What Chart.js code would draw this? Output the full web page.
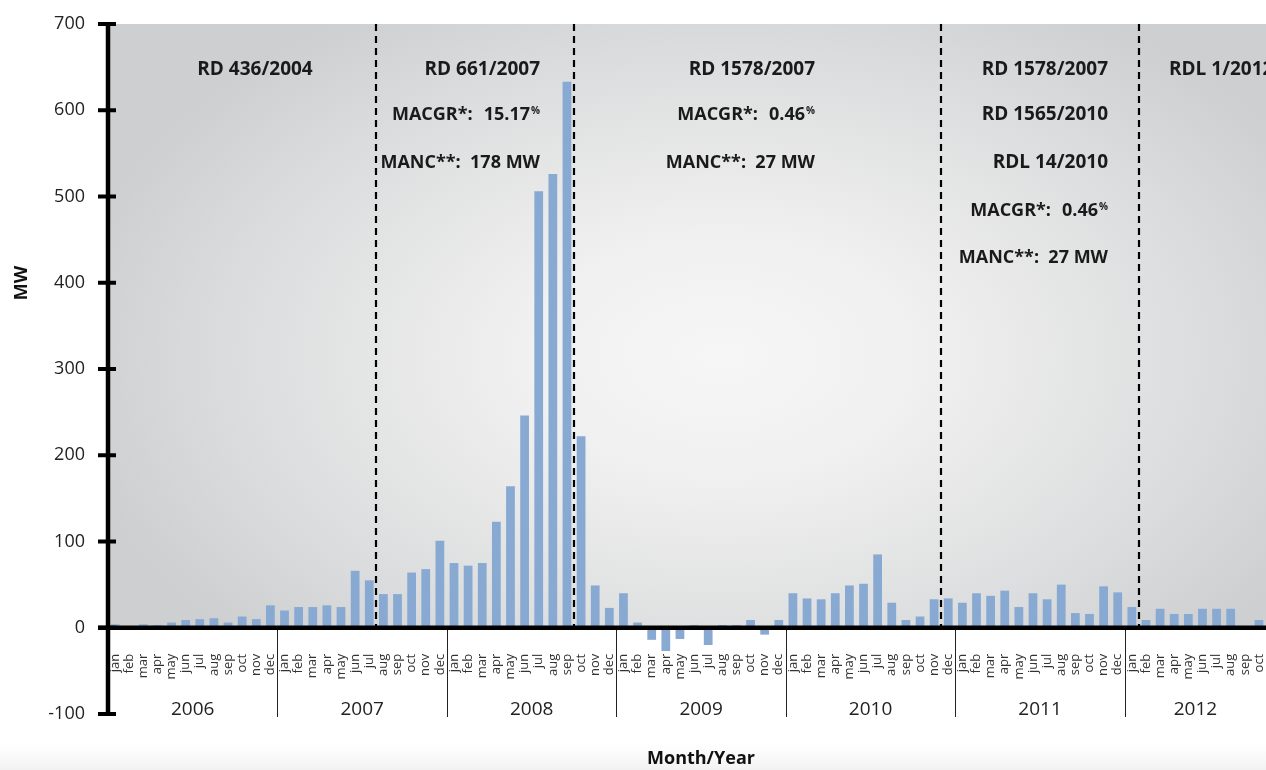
<!DOCTYPE html>
<html>
<head>
<meta charset="utf-8">
<script src="https://cdn.jsdelivr.net/npm/chart.js@4.4.0/dist/chart.umd.min.js"></script>
<style>
  html, body { margin: 0; padding: 0; background: #fff; }
  #wrap { width: 1266px; height: 770px; }
</style>
</head>
<body>
<div id="wrap"><canvas id="chart" width="1266" height="770"></canvas></div>
<script>
// monthly net capacity added (MW)
const years = ['2006', '2007', '2008', '2009', '2010', '2011', '2012'];
const monthNames = ['jan', 'feb', 'mar', 'apr', 'may', 'jun', 'jul', 'aug', 'sep', 'oct', 'nov', 'dec'];

const mw2006 = [4, 0, 4, 3, 6, 9, 10, 11, 6, 13, 10, 26];
const mw2007 = [20, 24, 24, 26, 24, 66, 55, 39, 39, 64, 68, 101];
const mw2008 = [75, 72, 75, 123, 164, 246, 506, 526, 633, 222, 49, 23];
const mw2009 = [40, 6, -14, -27, -13, 3, -20, 3, 3, 9, -8, 9];
const mw2010 = [40, 34, 33, 40, 49, 51, 85, 29, 9, 13, 33, 34];
const mw2011 = [29, 40, 37, 43, 24, 40, 33, 50, 17, 16, 48, 41];
const mw2012 = [24, 9, 22, 16, 16, 22, 22, 22, 0, 9];

const yTicks = [-100, 0, 100, 200, 300, 400, 500, 600, 700];

// last month of each regulatory period (dashed lines go after these)
const periodEnds = ['jul 2007', 'sep 2008', 'nov 2010', 'jan 2012'];

const series = [mw2006, mw2007, mw2008, mw2009, mw2010, mw2011, mw2012];
const labels = [];
const keys = [];
const values = [];
series.forEach((arr, yi) => {
  arr.forEach((v, mi) => {
    labels.push(monthNames[mi]);
    keys.push(monthNames[mi] + ' ' + years[yi]);
    values.push(v);
  });
});

// text blocks: anchor x, rows [text] or [label, value, pct]
const notes = [
  { align: 'center', x: 255, rows: [['RD 436/2004']] },
  { align: 'right', x: 540, rows: [['RD 661/2007'], ['MACGR*:', '15.17', '%'], ['MANC**:  178 MW']] },
  { align: 'right', x: 815, rows: [['RD 1578/2007'], ['MACGR*:', '0.46', '%'], ['MANC**:  27 MW']] },
  { align: 'right', x: 1108, rows: [['RD 1578/2007'], ['RD 1565/2010'], ['RDL 14/2010'], ['MACGR*:', '0.46', '%'], ['MANC**:  27 MW']] },
  { align: 'left', x: 1169, rows: [['RDL 1/2012']] }
];
const rowY = [70, 115, 163, 211, 258];

const FONT = "'Open Sans', sans-serif";
Chart.defaults.font.family = FONT;

const decorations = {
  id: 'decorations',
  beforeDraw(chart) {
    const { ctx, chartArea: a, scales: { y } } = chart;
    const w = chart.width, h = chart.height;
    ctx.save();
    ctx.fillStyle = '#fff';
    ctx.fillRect(0, 0, w, h);
    const fade = ctx.createLinearGradient(0, 744, 0, h);
    fade.addColorStop(0, 'rgba(244,244,244,0)');
    fade.addColorStop(1, '#f2f2f2');
    ctx.fillStyle = fade;
    ctx.fillRect(0, 744, w, h - 744);

    const y0 = y.getPixelForValue(0);
    const cx = a.left + a.width * 0.53, cy = a.top + (y0 - a.top) * 0.55;
    ctx.beginPath();
    ctx.rect(a.left, a.top, a.right - a.left, y0 - a.top);
    ctx.clip();
    ctx.translate(cx, cy);
    ctx.scale(1, 0.62);
    const g = ctx.createRadialGradient(0, 0, 0, 0, 0, 660);
    g.addColorStop(0, '#f6f6f6');
    g.addColorStop(0.3, '#f0f0f0');
    g.addColorStop(0.75, '#dbdcdd');
    g.addColorStop(1, '#cecfd1');
    ctx.fillStyle = g;
    ctx.fillRect(-800, -800, 1600, 1600);
    ctx.restore();
  },
  afterDatasetsDraw(chart) {
    const { ctx, chartArea: a, scales: { x, y } } = chart;
    const y0 = y.getPixelForValue(0);
    const yBottom = y.getPixelForValue(-100);
    const between = i => (x.getPixelForValue(i) + x.getPixelForValue(i + 1)) / 2;
    ctx.save();

    // regulatory period dividers
    ctx.strokeStyle = '#000';
    ctx.lineWidth = 2.2;
    ctx.setLineDash([7, 5]);
    periodEnds.forEach(k => {
      const px = Math.round(between(keys.indexOf(k)));
      ctx.beginPath();
      ctx.moveTo(px, a.top);
      ctx.lineTo(px, y0);
      ctx.stroke();
    });
    ctx.setLineDash([]);

    // year separators and labels
    ctx.lineWidth = 1;
    ctx.strokeStyle = '#222';
    let start = 0;
    series.forEach((arr, yi) => {
      const end = start + arr.length - 1;
      if (yi < series.length - 1) {
        const px = Math.round(between(end)) + 0.5;
        ctx.beginPath();
        ctx.moveTo(px, y0);
        ctx.lineTo(px, yBottom + 3);
        ctx.stroke();
      }
      const left = yi === 0 ? a.left : between(start - 1);
      const right = yi < series.length - 1 ? between(end) : a.right;
      ctx.fillStyle = '#222';
      ctx.font = '19px ' + FONT;
      ctx.textAlign = 'center';
      ctx.textBaseline = 'middle';
      ctx.fillText(years[yi], (left + right) / 2, yBottom - 4);
      start = end + 1;
    });

    // axes
    ctx.strokeStyle = '#000';
    ctx.lineWidth = 4.5;
    ctx.beginPath();
    ctx.moveTo(98, y0);
    ctx.lineTo(a.right, y0);
    ctx.stroke();
    ctx.beginPath();
    ctx.moveTo(a.left, a.top - 2);
    ctx.lineTo(a.left, yBottom + 2);
    ctx.stroke();
    ctx.lineWidth = 4;
    yTicks.forEach(v => {
      const py = y.getPixelForValue(v);
      ctx.beginPath();
      ctx.moveTo(98, py);
      ctx.lineTo(a.left + 8, py);
      ctx.stroke();
    });

    // axis titles
    ctx.fillStyle = '#111';
    ctx.font = 'bold 18px ' + FONT;
    ctx.textAlign = 'center';
    ctx.textBaseline = 'middle';
    ctx.fillText('Month/Year', 701, 759);
    ctx.save();
    ctx.translate(22, 283);
    ctx.rotate(-Math.PI / 2);
    ctx.fillText('MW', 0, 0);
    ctx.restore();

    // regulation notes
    ctx.fillStyle = '#1a1a1a';
    notes.forEach(n => {
      n.rows.forEach((row, ri) => {
        const ty = rowY[ri];
        ctx.textBaseline = 'middle';
        if (row.length === 1) {
          ctx.font = (row[0].startsWith('MANC') ? 'bold 18px ' : 'bold 19px ') + FONT;
          ctx.textAlign = n.align;
          ctx.fillText(row[0], n.x, ty);
        } else {
          ctx.textAlign = 'right';
          ctx.font = 'bold 10px ' + FONT;
          ctx.fillText(row[2], n.x, ty - 4);
          const pw = ctx.measureText(row[2]).width;
          ctx.font = 'bold 18px ' + FONT;
          const vx = n.x - pw - 1;
          ctx.fillText(row[1], vx, ty);
          const vw = ctx.measureText(row[1]).width;
          ctx.fillText(row[0], vx - vw - 11, ty);
        }
      });
    });
    ctx.restore();
  }
};

new Chart(document.getElementById('chart'), {
  type: 'bar',
  data: {
    labels: labels,
    datasets: [{
      data: values,
      backgroundColor: '#88a9d2',
      borderWidth: 0,
      barPercentage: 0.62,
      categoryPercentage: 1
    }]
  },
  options: {
    responsive: false,
    devicePixelRatio: 1,
    animation: false,
    layout: { padding: { top: 24, bottom: 56, left: 0, right: 0 } },
    plugins: { legend: { display: false }, tooltip: { enabled: false } },
    scales: {
      x: {
        position: { y: 0 },
        offset: true,
        grid: { display: false, drawTicks: false },
        border: { display: false },
        ticks: {
          autoSkip: false,
          minRotation: 90,
          maxRotation: 90,
          padding: 26,
          color: '#333',
          font: { size: 13 }
        },
        afterFit(s) { s.paddingLeft = 0; s.paddingRight = 0; s.paddingTop = 0; s.paddingBottom = 0; }
      },
      y: {
        min: -100,
        max: 700,
        grid: { display: false, drawTicks: false },
        border: { display: false },
        ticks: {
          stepSize: 100,
          padding: 23,
          color: '#222',
          font: { size: 18 }
        },
        afterFit(s) { s.width = 108; s.paddingTop = 0; s.paddingBottom = 0; }
      }
    }
  },
  plugins: [decorations]
});
</script>
</body>
</html>
